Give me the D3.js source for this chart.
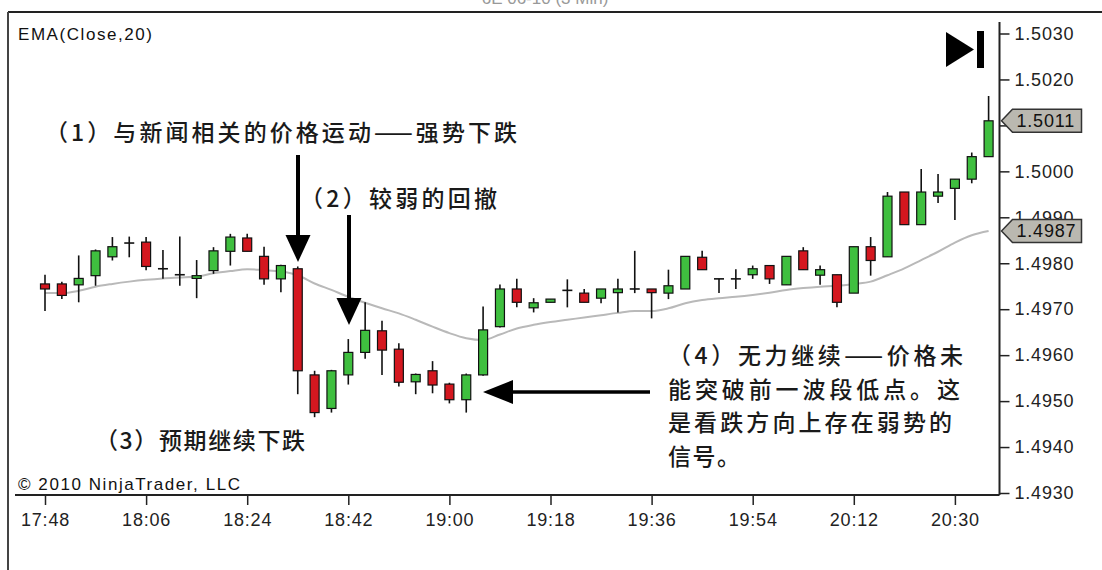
<!DOCTYPE html>
<html>
<head>
<meta charset="utf-8">
<script src="https://cdn.jsdelivr.net/npm/d3@7/dist/d3.min.js"></script>
<style>
  html, body { margin: 0; padding: 0; background: #fff; }
  svg { display: block; }
</style>
</head>
<body>
<svg id="chart" width="1102" height="570"></svg>
<script>
// 3-minute bars, 17:48 - 20:36
const times = ["17:48","17:51","17:54","17:57","18:00","18:03","18:06","18:09","18:12","18:15",
  "18:18","18:21","18:24","18:27","18:30","18:33","18:36","18:39","18:42","18:45",
  "18:48","18:51","18:54","18:57","19:00","19:03","19:06","19:09","19:12","19:15",
  "19:18","19:21","19:24","19:27","19:30","19:33","19:36","19:39","19:42","19:45",
  "19:48","19:51","19:54","19:57","20:00","20:03","20:06","20:09","20:12","20:15",
  "20:18","20:21","20:24","20:27","20:30","20:33","20:36"];

const opens = [1.49755,1.49755,1.49753,1.49773,1.49814,1.49844,1.49846,1.49788,1.49775,1.49767,
  1.49784,1.49826,1.49855,1.49815,1.49766,1.49788,1.49557,1.49484,1.49557,1.49606,
  1.49653,1.49613,1.49542,1.49566,1.49537,1.49503,1.49557,1.49662,1.49744,1.49703,
  1.49715,1.49741,1.49735,1.49724,1.49736,1.49744,1.49744,1.49735,1.49744,1.49813,
  1.49766,1.49766,1.49775,1.49795,1.49753,1.49827,1.49774,1.49775,1.49735,1.49836,
  1.49814,1.49955,1.49884,1.49946,1.49963,1.49983,1.50032];

const highs = [1.49775,1.49760,1.49817,1.49830,1.49857,1.49858,1.49857,1.49829,1.49858,1.49807,
  1.49835,1.49864,1.49864,1.49836,1.49797,1.49793,1.49566,1.49568,1.49635,1.49715,
  1.49675,1.49626,1.49560,1.49587,1.49540,1.49560,1.49706,1.49754,1.49766,1.49724,
  1.49722,1.49765,1.49744,1.49744,1.49766,1.49827,1.49744,1.49786,1.49815,1.49827,
  1.49766,1.49787,1.49795,1.49795,1.49815,1.49835,1.49795,1.49775,1.49836,1.49857,
  1.49955,1.49955,1.50005,1.49994,1.49983,1.50041,1.50164];

const lows = [1.49696,1.49722,1.49715,1.49751,1.49806,1.49813,1.49785,1.49766,1.49751,1.49724,
  1.49777,1.49795,1.49826,1.49753,1.49737,1.49515,1.49465,1.49475,1.49536,1.49592,
  1.49557,1.49532,1.49515,1.49517,1.49495,1.49475,1.49555,1.49660,1.49704,1.49693,
  1.49715,1.49704,1.49715,1.49713,1.49693,1.49735,1.49680,1.49722,1.49744,1.49786,
  1.49735,1.49744,1.49766,1.49755,1.49753,1.49786,1.49753,1.49704,1.49735,1.49773,
  1.49814,1.49884,1.49884,1.49931,1.49894,1.49974,1.50032];

const closes = [1.49744,1.49730,1.49767,1.49827,1.49836,1.49844,1.49793,1.49788,1.49775,1.49773,
  1.49827,1.49857,1.49826,1.49766,1.49795,1.49566,1.49475,1.49566,1.49606,1.49654,
  1.49611,1.49541,1.49558,1.49535,1.49503,1.49557,1.49655,1.49744,1.49715,1.49714,
  1.49722,1.49741,1.49715,1.49744,1.49744,1.49744,1.49736,1.49751,1.49815,1.49786,
  1.49766,1.49766,1.49788,1.49766,1.49815,1.49786,1.49786,1.49715,1.49836,1.49806,
  1.49946,1.49884,1.49955,1.49955,1.49983,1.50032,1.50110];

// EMA(Close,20)
const ema = [1.49735,1.49735,1.49740,1.49749,1.49755,1.49760,1.49764,1.49767,1.49769,1.49771,
  1.49778,1.49783,1.49787,1.49785,1.49782,1.49774,1.49756,1.49742,1.49727,1.49714,
  1.49702,1.49691,1.49677,1.49662,1.49648,1.49637,1.49633,1.49645,1.49658,1.49666,
  1.49672,1.49677,1.49682,1.49687,1.49692,1.49696,1.49696,1.49702,1.49713,1.49720,
  1.49724,1.49727,1.49731,1.49736,1.49742,1.49746,1.49749,1.49751,1.49755,1.49760,
  1.49774,1.49789,1.49807,1.49825,1.49845,1.49861,1.49870];

const xTickLabels = ["17:48","18:06","18:24","18:42","19:00","19:18","19:36","19:54","20:12","20:30"];
const yTickValues = [1.4930,1.4940,1.4950,1.4960,1.4970,1.4980,1.4990,1.5000,1.5010,1.5020,1.5030];

const lastClose = 1.5011;
const lastEma = 1.4987;

const svg = d3.select("#chart");
svg.append("rect").attr("width", 1102).attr("height", 570).attr("fill", "#fff");

const axisX = 999.5, axisY = 495;
const x = d3.scalePoint().domain(times).range([45, 988.6]);
const y = d3.scaleLinear().domain([1.4930, 1.5030]).range([493, 33.5]);

const axisFont = "'Liberation Sans', Arial, sans-serif";
const cjkFont = "'Noto Sans CJK SC', sans-serif";

// panel frame
svg.append("line").attr("x1", 8).attr("x2", 1102).attr("y1", 12).attr("y2", 12)
  .attr("stroke", "#222").attr("stroke-width", 2);
svg.append("line").attr("x1", 8).attr("x2", 8).attr("y1", 12).attr("y2", 570)
  .attr("stroke", "#444").attr("stroke-width", 2);

// faint title strip above the panel
svg.append("text").attr("x", 545).attr("y", 4).attr("text-anchor", "middle")
  .attr("font-family", axisFont).attr("font-size", 17).attr("fill", "#999")
  .text("6E 06-10  (3 Min)");

// EMA line
svg.append("path")
  .datum(ema)
  .attr("fill", "none")
  .attr("stroke", "#b9b9b9")
  .attr("stroke-width", 2)
  .attr("d", d3.line().x((d, i) => x(times[i])).y(d => y(d)).curve(d3.curveMonotoneX));

// candles
const bars = times.map((t, i) => ({ t, o: opens[i], h: highs[i], l: lows[i], c: closes[i] }));
const g = svg.append("g");
const candle = g.selectAll("g.bar").data(bars).join("g").attr("class", "bar");
candle.append("line")
  .attr("x1", d => x(d.t)).attr("x2", d => x(d.t))
  .attr("y1", d => y(d.h)).attr("y2", d => y(d.l))
  .attr("stroke", "#111").attr("stroke-width", 1.6);
candle.filter(d => d.o !== d.c).append("rect")
  .attr("x", d => x(d.t) - 4.5)
  .attr("y", d => y(Math.max(d.o, d.c)))
  .attr("width", 9)
  .attr("height", d => Math.max(1, Math.abs(y(d.o) - y(d.c))))
  .attr("fill", d => d.c > d.o ? "#3fbf3f" : "#d4171f")
  .attr("stroke", "#111").attr("stroke-width", 1.2);
candle.filter(d => d.o === d.c).append("line")
  .attr("x1", d => x(d.t) - 5).attr("x2", d => x(d.t) + 5)
  .attr("y1", d => y(d.o)).attr("y2", d => y(d.o))
  .attr("stroke", "#111").attr("stroke-width", 1.6);

// y axis
const yAxis = svg.append("g").attr("transform", `translate(${axisX},0)`)
  .call(d3.axisRight(y).tickValues(yTickValues).tickFormat(d3.format(".4f")).tickSize(10).tickPadding(5));
yAxis.select(".domain").remove();
yAxis.selectAll(".tick line").attr("stroke", "#222").attr("stroke-width", 1.5);
yAxis.selectAll(".tick text").attr("font-family", axisFont).attr("font-size", 18)
  .attr("letter-spacing", "0.8px").attr("fill", "#222");
svg.append("line").attr("x1", axisX).attr("x2", axisX).attr("y1", 22).attr("y2", axisY)
  .attr("stroke", "#222").attr("stroke-width", 2);

// x axis
const xAxis = svg.append("g").attr("transform", `translate(0,${axisY})`)
  .call(d3.axisBottom(x).tickValues(xTickLabels).tickSize(10).tickPadding(8));
xAxis.select(".domain").remove();
xAxis.selectAll(".tick line").attr("stroke", "#222").attr("stroke-width", 1.5);
xAxis.selectAll(".tick text").attr("font-family", axisFont).attr("font-size", 18)
  .attr("letter-spacing", "0.8px").attr("fill", "#222");
svg.append("line").attr("x1", 15).attr("x2", axisX).attr("y1", axisY).attr("y2", axisY)
  .attr("stroke", "#222").attr("stroke-width", 2);

// last-value markers on the price axis
function marker(v) {
  const yc = y(v);
  const gm = svg.append("g");
  gm.append("path")
    .attr("d", `M${axisX + 2},${yc} L${axisX + 13},${yc - 11.5} L${axisX + 82},${yc - 11.5} L${axisX + 82},${yc + 11.5} L${axisX + 13},${yc + 11.5} Z`)
    .attr("fill", "#bab8b0").attr("stroke", "#333").attr("stroke-width", 1.5);
  gm.append("text").attr("x", axisX + 17).attr("y", yc).attr("dy", "0.35em")
    .attr("font-family", axisFont).attr("font-size", 18).attr("letter-spacing", "0.8px")
    .attr("fill", "#111").text(d3.format(".4f")(v));
}
marker(lastClose);
marker(lastEma);

// indicator label and copyright
svg.append("text").attr("x", 18).attr("y", 40).attr("font-family", axisFont)
  .attr("font-size", 17).attr("fill", "#111").attr("textLength", 134).attr("lengthAdjust", "spacing")
  .text("EMA(Close,20)");
svg.append("text").attr("x", 18).attr("y", 490).attr("font-family", axisFont)
  .attr("font-size", 17).attr("fill", "#111").attr("textLength", 222).attr("lengthAdjust", "spacing")
  .text("© 2010 NinjaTrader, LLC");

// play-to-end button
svg.append("path").attr("d", "M946,32 L946,67 L974,49.5 Z").attr("fill", "#000");
svg.append("rect").attr("x", 977).attr("y", 31).attr("width", 7).attr("height", 37).attr("fill", "#000");

// arrows
function downArrow(cx, yTop, yTip) {
  svg.append("line").attr("x1", cx).attr("x2", cx).attr("y1", yTop).attr("y2", yTip - 24)
    .attr("stroke", "#000").attr("stroke-width", 4);
  svg.append("path").attr("d", `M${cx - 12.5},${yTip - 27} L${cx + 12.5},${yTip - 27} L${cx},${yTip} Z`)
    .attr("fill", "#000");
}
downArrow(298, 155, 262);
downArrow(349, 215, 325);
svg.append("line").attr("x1", 650).attr("x2", 508).attr("y1", 392).attr("y2", 392)
  .attr("stroke", "#000").attr("stroke-width", 3.5);
svg.append("path").attr("d", "M483,392 L513,380 L513,404 Z").attr("fill", "#000");

// annotations
const notes = [
  { x: 45, y: 141, w: 472, t: "（1）与新闻相关的价格运动——强势下跌" },
  { x: 300, y: 207, w: 197, t: "（2）较弱的回撤" },
  { x: 95, y: 449, w: 210, t: "（3）预期继续下跌" },
  { x: 668, y: 364, w: 295, t: "（4）无力继续——价格未" },
  { x: 668, y: 398, w: 292, t: "能突破前一波段低点。这" },
  { x: 668, y: 431, w: 284, t: "是看跌方向上存在弱势的" },
  { x: 668, y: 465, w: 72, t: "信号。" }
];
svg.selectAll("text.note").data(notes).join("text").attr("class", "note")
  .attr("x", d => d.x).attr("y", d => d.y)
  .attr("font-family", cjkFont).attr("font-size", 23).attr("font-weight", 500)
  .attr("fill", "#1a1a1a")
  .attr("textLength", d => d.w).attr("lengthAdjust", "spacing")
  .text(d => d.t);
</script>
</body>
</html>
